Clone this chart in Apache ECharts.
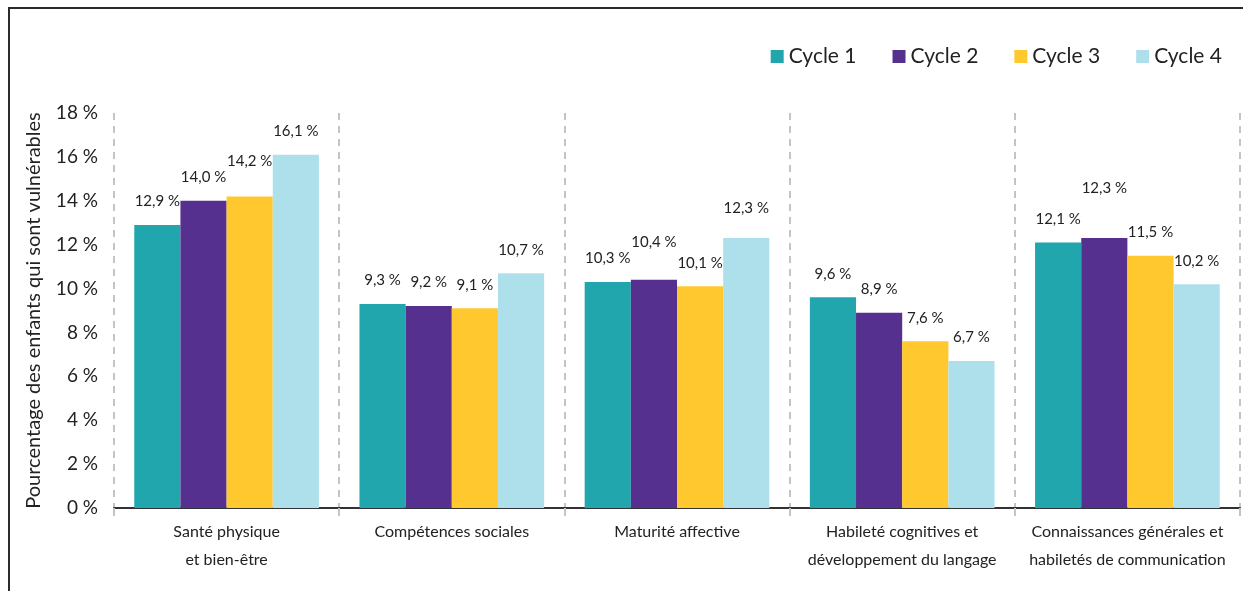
<!DOCTYPE html>
<html>
<head>
<meta charset="utf-8">
<script src="https://cdn.jsdelivr.net/npm/echarts@6/dist/echarts.min.js"></script>
<style>
  html, body { margin: 0; padding: 0; background: #fff; }
  #frame { position: absolute; left: 8px; top: 7px; width: 1300px; height: 700px; border: 2px solid #2b2b2b; box-sizing: border-box; }
  #chart { position: absolute; left: 0; top: 0; width: 1243px; height: 591px; }
</style>
</head>
<body>
<div id="frame"></div>
<div id="chart"></div>
<script>
const categories = [
  'Santé physique\net bien-être',
  'Compétences sociales',
  'Maturité affective',
  'Habileté cognitives et\ndéveloppement du langage',
  'Connaissances générales et\nhabiletés de communication'
]
const cycleNames = ['Cycle 1', 'Cycle 2', 'Cycle 3', 'Cycle 4']
const cycle1 = [12.9, 9.3, 10.3, 9.6, 12.1]
const cycle2 = [14.0, 9.2, 10.4, 8.9, 12.3]
const cycle3 = [14.2, 9.1, 10.1, 7.6, 11.5]
const cycle4 = [16.1, 10.7, 12.3, 6.7, 10.2]
const yTicks = [0, 2, 4, 6, 8, 10, 12, 14, 16, 18]

const colors = ['#21a6ae', '#55308e', '#ffc82e', '#aee0ec']
const font = 'Lato, "Open Sans", sans-serif'

// a few labels sit higher above their bar in the original (hand placed)
const extraLift = { '1-4': 26, '2-0': 12, '1-2': 14, '3-2': 6 }

const chart = echarts.init(document.getElementById('chart'))

const series = [cycle1, cycle2, cycle3, cycle4].map((vals, i) => ({
  name: cycleNames[i],
  type: 'bar',
  data: vals.map((v, j) => {
    const lift = extraLift[i + '-' + j]
    return lift ? { value: v, label: { offset: [0, -lift] } } : v
  }),
  barGap: 0,
  barCategoryGap: '18%',
  itemStyle: { color: colors[i] },
  label: {
    show: true,
    position: 'top',
    distance: 16,
    color: '#222',
    fontFamily: font,
    fontSize: 15,
    formatter: p => p.value.toFixed(1).replace('.', ',') + ' %'
  }
}))

chart.setOption({
  animation: false,
  textStyle: { fontFamily: font },
  color: colors,
  legend: {
    data: cycleNames,
    right: 16,
    top: 41,
    itemWidth: 13,
    itemHeight: 13,
    itemGap: 36,
    icon: 'rect',
    textStyle: { fontSize: 21, color: '#222', fontFamily: font }
  },
  grid: { left: 114, right: 3, top: 113, bottom: 83 },
  xAxis: {
    type: 'category',
    data: categories,
    axisLine: { lineStyle: { color: '#333', width: 2 } },
    axisTick: { show: true, length: 8, lineStyle: { color: '#c4c4c4', width: 2 } },
    axisLabel: { color: '#222', fontSize: 16, lineHeight: 28, margin: 10, interval: 0, fontFamily: font },
    splitLine: { show: true, lineStyle: { color: '#c4c4c4', width: 2, type: [7, 6] } }
  },
  yAxis: {
    type: 'value',
    min: yTicks[0],
    max: yTicks[yTicks.length - 1],
    interval: 2,
    name: 'Pourcentage des enfants qui sont vulnérables',
    nameLocation: 'middle',
    nameGap: 70,
    nameTextStyle: { fontSize: 20, color: '#222', fontFamily: font },
    axisLine: { show: false },
    axisTick: { show: false },
    splitLine: { show: false },
    axisLabel: { color: '#222', fontSize: 19, margin: 16, formatter: '{value} %', fontFamily: font }
  },
  series: series
})
</script>
</body>
</html>
